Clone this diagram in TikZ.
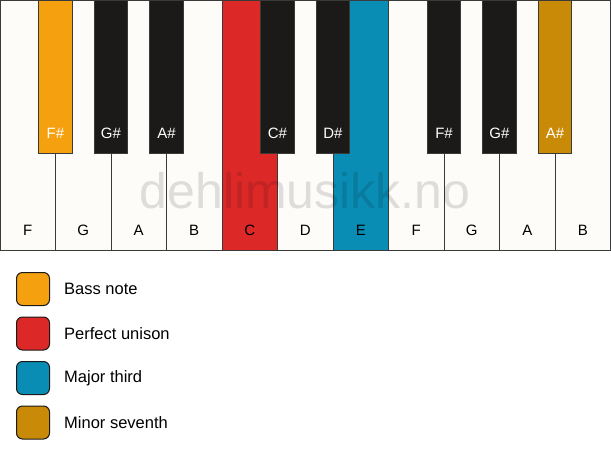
\documentclass[tikz,border=0pt]{standalone}
\usepackage{fontspec}
\setmainfont{Liberation Sans}
\usetikzlibrary{calc}
\definecolor{keywhite}{HTML}{FDFCF8}
\definecolor{keyblack}{HTML}{1B1A19}
\definecolor{keyline}{HTML}{3A3A3A}
\definecolor{bassorange}{HTML}{F5A00F}
\definecolor{unisonred}{HTML}{DD2828}
\definecolor{thirdblue}{HTML}{0A8DB5}
\definecolor{seventhgold}{HTML}{C98A08}
\begin{document}
\begin{tikzpicture}[x=1pt,y=-1pt,
  whitekey/.style={draw=keyline, line width=0.9pt, fill=keywhite, minimum width=55.5pt, minimum height=250pt, anchor=north west, inner sep=0pt, outer sep=0pt},
  blackkey/.style={draw=keyline, line width=0.9pt, fill=keyblack, minimum width=33.3pt, minimum height=153pt, anchor=north, inner sep=0pt, outer sep=0pt},
  wlabel/.style={font=\fontsize{15}{18}\selectfont, text=black, inner sep=0pt},
  blabel/.style={font=\fontsize{15}{18}\selectfont, text=white, inner sep=0pt},
  legbox/.style={draw=keyblack, line width=1pt, rounded corners=6pt, minimum width=33pt, minimum height=33pt, inner sep=0pt},
  legtext/.style={font=\fontsize{16.5}{19}\selectfont, anchor=west, inner sep=0pt}]
\useasboundingbox[fill=white] (0,0) rectangle (611,461);
% white keys
\foreach \i/\n/\c in {0/F/keywhite,1/G/keywhite,2/A/keywhite,3/B/keywhite,4/C/unisonred,5/D/keywhite,6/E/thirdblue,7/F/keywhite,8/G/keywhite,9/A/keywhite,10/B/keywhite}{
  \node[whitekey, fill=\c] (w\i) at (55.5*\i,0) {};
  \node[wlabel] (wl\i) at ($(w\i.south)+(0,-20)$) {\n};
}
% watermark
\node[font=\fontsize{50}{52}\selectfont, text=black, opacity=0.12, anchor=base, inner sep=0pt] (wm) at (305,208) {dehlimusikk.no};
% black keys
\foreach \j/\n/\c in {1/F\#/bassorange,2/G\#/keyblack,3/A\#/keyblack,5/C\#/keyblack,6/D\#/keyblack,8/F\#/keyblack,9/G\#/keyblack,10/A\#/seventhgold}{
  \node[blackkey, fill=\c] (b\j) at (55.5*\j,0) {};
  \node[blabel] (bl\j) at ($(b\j.south)+(0,-20)$) {\n};
}
% legend
\foreach \k/\c/\t in {0/bassorange/Bass note,1/unisonred/Perfect unison,2/thirdblue/Major third,3/seventhgold/Minor seventh}{
  \node[legbox, fill=\c] (lg\k) at (33,289+44.5*\k) {};
  \node[legtext] (lt\k) at (64,289+44.5*\k) {\t};
}
\end{tikzpicture}
\end{document}
